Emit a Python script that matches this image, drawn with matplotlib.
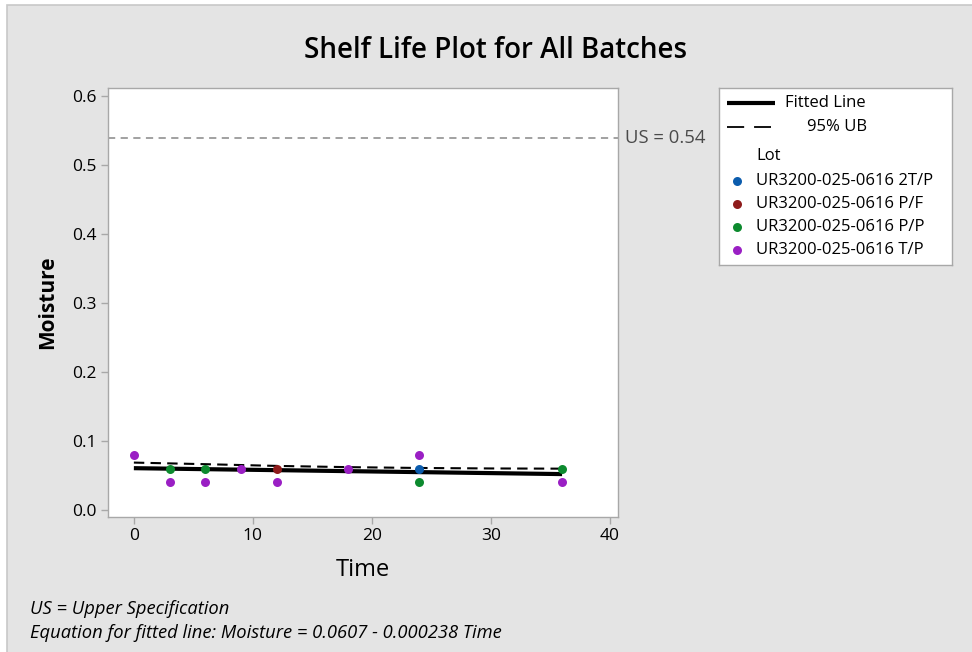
import matplotlib
matplotlib.use("Agg")
import matplotlib.pyplot as plt
from matplotlib.patches import Rectangle

plt.rcParams['font.family'] = ['Open Sans', 'DejaVu Sans']

# ---- data ----
lots = ["UR3200-025-0616 2T/P", "UR3200-025-0616 P/F",
        "UR3200-025-0616 P/P", "UR3200-025-0616 T/P"]
lot_colors = ["#0B5CAD", "#8E1B1B", "#0C8A2E", "#9A1FC4"]
time_2tp = [24]
moist_2tp = [0.06]
time_pf = [12]
moist_pf = [0.06]
time_pp = [3, 6, 24, 36]
moist_pp = [0.06, 0.06, 0.04, 0.06]
time_tp = [0, 3, 6, 9, 12, 18, 24, 36]
moist_tp = [0.08, 0.04, 0.04, 0.06, 0.04, 0.06, 0.08, 0.04]
lot_times = [time_2tp, time_pf, time_pp, time_tp]
lot_moist = [moist_2tp, moist_pf, moist_pp, moist_tp]

fit_intercept = 0.0607
fit_slope = -0.000238
fit_time = [0, 36]
fit_moist = [fit_intercept + fit_slope * t for t in fit_time]

ub_time = [0, 6, 12, 18, 24, 30, 36]
ub_moist = [0.0688, 0.0665, 0.0640, 0.0622, 0.0610, 0.0603, 0.0600]

upper_spec = 0.54
x_ticks = [0, 10, 20, 30, 40]
y_ticks = [0.0, 0.1, 0.2, 0.3, 0.4, 0.5, 0.6]

W, H = 972, 652
fig = plt.figure(figsize=(W / 100, H / 100), dpi=100)
fig.patch.set_facecolor("white")
# grey background panel with light border (left/top)
bg = Rectangle((7 / W, -0.1), 1.2, 1.1 - 5 / H, transform=fig.transFigure,
               facecolor="#E4E4E4", edgecolor="#C8C8C8", linewidth=1.2, zorder=-10)
fig.patches.append(bg)

def px_axes(x0, y0, x1, y1):
    return [x0 / W, 1 - y1 / H, (x1 - x0) / W, (y1 - y0) / H]

ax = fig.add_axes(px_axes(107.7, 88.3, 618, 517))
ax.set_facecolor("white")
for s in ax.spines.values():
    s.set_color("#A8A8A8")
    s.set_linewidth(1.0)

ax.set_xlim(-2.2, 40.7)
ax.set_ylim(-0.0101, 0.6116)
ax.set_xticks(x_ticks)
ax.set_yticks(y_ticks)
ax.set_yticklabels([f"{v:.1f}" for v in y_ticks])
ax.tick_params(axis="both", colors="#A8A8A8", length=5, width=1,
               labelcolor="black", labelsize=12.5, pad=3)
for lbl in ax.get_xticklabels() + ax.get_yticklabels():
    lbl.set_fontweight("medium")

# upper specification
ax.axhline(upper_spec, color="#9A9A9A", linestyle=(0, (4, 3)), linewidth=1.3, zorder=1)
ax.text(1.013, upper_spec, f"US = {upper_spec}", transform=ax.get_yaxis_transform(),
        ha="left", va="center", fontsize=13.3, color="#4A4A4A", clip_on=False)

# fitted line and upper bound
ax.plot(fit_time, fit_moist, color="black", linewidth=3.0, zorder=3,
        solid_capstyle="butt")
ax.plot(ub_time, ub_moist, color="black", linewidth=1.5, zorder=3,
        linestyle=(0, (5, 3)))

for t, m, c in zip(lot_times, lot_moist, lot_colors):
    ax.scatter(t, m, s=42, color=c, zorder=4, linewidths=0)

ax.set_xlabel("Time", fontsize=17, fontweight="medium", labelpad=10)
ax.set_ylabel("Moisture", fontsize=15, fontweight="bold", labelpad=10)

fig.text(495 / W, 1 - 50 / H, "Shelf Life Plot for All Batches", ha="center",
         va="center", fontsize=20, fontweight="semibold")

fig.text(30 / W, 1 - 609 / H, "US = Upper Specification", ha="left", va="center",
         fontsize=13.2, style="italic")
fig.text(30 / W, 1 - 633 / H, "Equation for fitted line: Moisture = 0.0607 - 0.000238 Time",
         ha="left", va="center", fontsize=13.2, style="italic")

# ---- legend box ----
lx0, ly0, lx1, ly1 = 719, 88, 952, 265
lax = fig.add_axes(px_axes(lx0, ly0, lx1, ly1))
lax.set_xlim(0, lx1 - lx0)
lax.set_ylim(ly1 - ly0, 0)
lax.set_xticks([]); lax.set_yticks([])
lax.set_facecolor("white")
for s in lax.spines.values():
    s.set_color("#A8A8A8")
    s.set_linewidth(1.0)
lax.plot([8, 56], [15, 15], color="black", linewidth=3.0, solid_capstyle="butt")
lax.text(66, 15, "Fitted Line", va="center", ha="left", fontsize=12)
lax.plot([8, 52], [39, 39], color="black", linewidth=1.3, linestyle=(0, (9.5, 5.5)))
lax.text(88, 39, "95% UB", va="center", ha="left", fontsize=12)
lax.text(37, 68, "Lot", va="center", ha="left", fontsize=12)
for i, (name, c) in enumerate(zip(lots, lot_colors)):
    yy = 93 + i * 23
    lax.scatter([18], [yy], s=42, color=c, linewidths=0)
    lax.text(37, yy, name, va="center", ha="left", fontsize=12)

fig.savefig("out.png", dpi=100)
